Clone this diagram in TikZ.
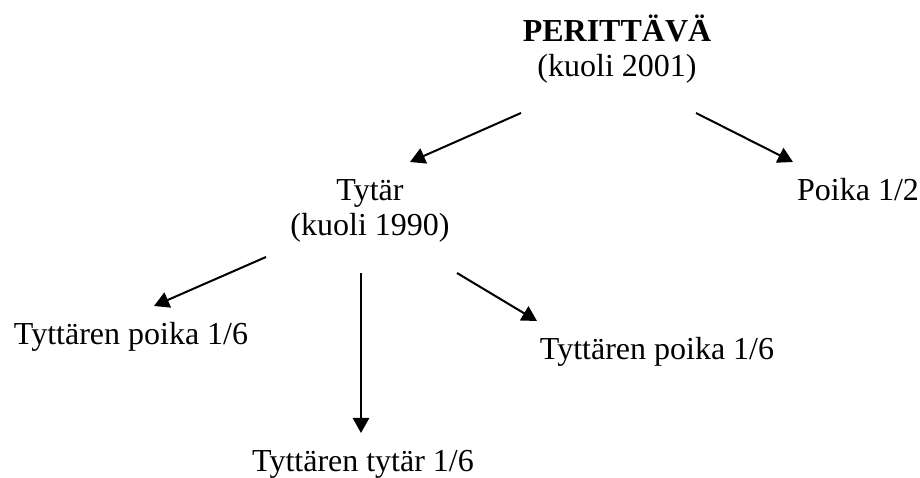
\documentclass[tikz,border=0pt]{standalone}
\usepackage{fontspec}
\setmainfont{Liberation Serif}
\usetikzlibrary{arrows.meta}

\begin{document}
\begin{tikzpicture}[x = 0.4pt, y = -0.4pt,
	every node/.style = {inner sep = 0pt, anchor = base, align = center, font = \fontsize{12.8}{14}\selectfont},
	link/.style = {line width = 0.8pt, -{Triangle[length = 6pt, width = 6.5pt]}}]
	\useasboundingbox (0, 0) rectangle (920, 478);

	\node (heir) at (617, 77) {\textbf{PERITTÄVÄ}\\(kuoli 2001)};
	\node (daughter) at (370, 236) {Tytär\\(kuoli 1990)};
	\node (son) at (858, 201) {Poika 1/2};
	\node (gsonA) at (131, 345) {Tyttären poika 1/6};
	\node (gsonB) at (657, 360) {Tyttären poika 1/6};
	\node (gdaughter) at (363, 472) {Tyttären tytär 1/6};

	\coordinate (heirL) at (521, 113);
	\coordinate (heirR) at (696, 113);
	\coordinate (daughterIn) at (410, 162);
	\coordinate (sonIn) at (793, 162);
	\coordinate (daughterL) at (266, 257);
	\coordinate (daughterM) at (361, 273);
	\coordinate (daughterR) at (457, 273);
	\coordinate (gsonAIn) at (154, 306);
	\coordinate (gdaughterIn) at (361, 433);
	\coordinate (gsonBIn) at (537, 321);

	\draw[link] (heirL) -- (daughterIn);
	\draw[link] (heirR) -- (sonIn);
	\draw[link] (daughterL) -- (gsonAIn);
	\draw[link] (daughterM) -- (gdaughterIn);
	\draw[link] (daughterR) -- (gsonBIn);
\end{tikzpicture}
\end{document}
